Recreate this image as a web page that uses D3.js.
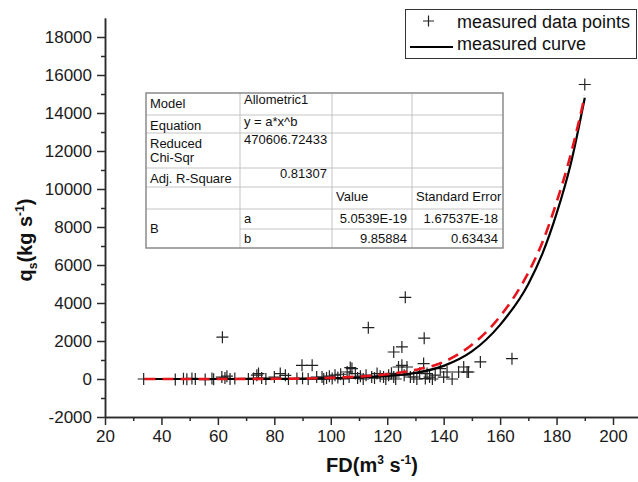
<!DOCTYPE html>
<html>
<head>
<meta charset="utf-8">
<script src="https://cdn.jsdelivr.net/npm/d3@7"></script>
<style>
  body { margin: 0; background: #fff; }
  svg { display: block; font-family: Arial, 'Liberation Sans', sans-serif; }
</style>
</head>
<body>
<script>
'use strict';

// scatter points: FD (m3/s) and qs (kg/s)
const fdValues = [
  33.7, 44.9, 47.8, 49.0, 50.8, 52.0, 55.5, 57.9, 58.5, 61.4, 62.5, 63.2, 64.3, 66.0,
  70.8, 72.6, 73.8, 74.4, 75.5, 77.0, 80.0, 82.1, 83.9, 85.0, 88.0, 90.0, 92.0, 95.0,
  96.9, 97.5, 98.5, 99.5, 100.5, 101.5, 102.5, 103.5, 104.5, 105.8, 106.5, 107.5, 108.7,
  109.5, 110.5, 111.5, 112.5, 114.5, 115.5, 116.4, 117.5, 118.7, 119.5, 120.5, 121.5,
  122.3, 123.0, 124.0, 125.2, 126.0, 127.0, 128.2, 129.4, 130.5, 131.5, 132.9, 133.5,
  134.1, 135.0, 136.0, 137.0, 138.8, 140.0, 141.2, 143.0, 145.3, 147.1, 148.3, 148.8,
  61.6, 89.8, 93.4, 106.9, 113.3, 122.3, 125.2, 126.4, 133.1, 153.0, 164.2, 190.0
];
const qsValues = [
  0, -20, 10, -10, 30, 0, -30, 20, -10, 100, 50, 150, 0, 20,
  0, 30, 200, 284, 50, 0, 100, 284, 195, 0, 20, 40, 0, 100,
  105, 0, 50, 150, 30, 200, 80, 250, 0, 368, 100, 547, 284,
  50, 150, 0, 200, 100, 50, 284, 150, 105, 0, 200, 300,
  105, 0, 631, 721, 200, 631, 105, 105, 0, 300, 810, 21,
  284, 100, 0, 200, 547, 100, 368, 0, 368, 631, 368, 368,
  2200, 720, 720, 600, 2700, 1420, 1690, 4300, 2150, 900, 1070, 15500
];

// curves
const curveFd = [34, 60, 80, 100, 110, 120, 130, 140, 150, 160, 170, 175, 180, 185, 190];
const measuredCurveQs = [0, 0, 5, 35, 80, 160, 320, 690, 1450, 2850, 5000, 6600, 8700, 11300, 14800];
const fitCurveQs = [0, 2, 10, 60, 130, 250, 480, 900, 1800, 3300, 5600, 7200, 9300, 11800, 14900];

// axis ticks
const xMajorTicks = [20, 40, 60, 80, 100, 120, 140, 160, 180, 200];
const xMinorTicks = [30, 50, 70, 90, 110, 130, 150, 170, 190];
const yMajorTicks = [-2000, 0, 2000, 4000, 6000, 8000, 10000, 12000, 14000, 16000, 18000];
const yMinorTicks = [-1000, 1000, 3000, 5000, 7000, 9000, 11000, 13000, 15000, 17000];

// legend labels
const legendLabels = ['measured data points', 'measured curve'];

// fit table text, one row per line
const tableRows = [
  ['Model', 'Allometric1', '', ''],
  ['Equation', 'y = a*x^b', '', ''],
  ['Reduced|Chi-Sqr', '470606.72433', '', ''],
  ['Adj. R-Square', '0.81307', '', ''],
  ['', '', 'Value', 'Standard Error'],
  ['B', 'a', '5.0539E-19', '1.67537E-18'],
  ['', 'b', '9.85884', '0.63434']
];

(function() {
  let svg = '';

  window.onload = function() {
    svg = d3
      .select('body')
      .append('svg')
      .attr('width', 638)
      .attr('height', 482);

    const map = drawAxes();
    plotData(map);
    makeTable();
    makeLegend();
    makeLabels();
  };

  // axes with major and minor ticks
  function drawAxes() {
    const xScale = d3.scaleLinear().domain([20, 209]).range([105, 638.4]);
    const yScale = d3.scaleLinear().domain([-2000, 19000]).range([417, 18]);
    const plain = d => String(d); // no thousands comma, plain hyphen

    const xMinor = svg
      .append('g')
      .attr('transform', 'translate(0, 417)')
      .call(d3.axisBottom(xScale).tickValues(xMinorTicks).tickSize(4).tickSizeOuter(0).tickFormat(''));
    const xMajor = svg
      .append('g')
      .attr('transform', 'translate(0, 417)')
      .call(d3.axisBottom(xScale).tickValues(xMajorTicks).tickSize(8).tickSizeOuter(0).tickPadding(5).tickFormat(plain));

    const yMinor = svg
      .append('g')
      .attr('transform', 'translate(105, 0)')
      .call(d3.axisLeft(yScale).tickValues(yMinorTicks).tickSize(4).tickSizeOuter(0).tickFormat(''));
    const yMajor = svg
      .append('g')
      .attr('transform', 'translate(105, 0)')
      .call(d3.axisLeft(yScale).tickValues(yMajorTicks).tickSize(8).tickSizeOuter(0).tickPadding(5).tickFormat(plain));

    [xMinor, xMajor, yMinor, yMajor].forEach(g => {
      g.selectAll('path, line').attr('stroke', '#2b2b2b').attr('stroke-width', 1.5);
      g.selectAll('text')
        .attr('fill', '#1a1a1a')
        .style('font-size', '17px')
        .style('font-family', 'Arial, Liberation Sans, sans-serif');
    });

    return { xScale: xScale, yScale: yScale };
  }

  // pluses and the two curves
  function plotData(map) {
    const xScale = map.xScale;
    const yScale = map.yScale;
    const points = fdValues.map((fd, i) => ({ fd: fd, qs: qsValues[i] }));

    svg
      .append('g')
      .selectAll('path')
      .data(points)
      .enter()
      .append('path')
      .attr('transform', d => 'translate(' + xScale(d.fd) + ',' + yScale(d.qs) + ')')
      .attr('d', 'M-6,0H6M0,-6V6')
      .attr('stroke', '#222')
      .attr('stroke-width', 1.2)
      .attr('fill', 'none');

    const curveLine = d3
      .line()
      .x((d, i) => xScale(curveFd[i]))
      .y(d => yScale(d))
      .curve(d3.curveMonotoneX);

    svg
      .append('path')
      .datum(measuredCurveQs)
      .attr('d', curveLine)
      .attr('fill', 'none')
      .attr('stroke', '#000')
      .attr('stroke-width', 2.2);

    svg
      .append('path')
      .datum(fitCurveQs)
      .attr('d', curveLine)
      .attr('fill', 'none')
      .attr('stroke', '#e8141b')
      .attr('stroke-width', 2.6)
      .attr('stroke-dasharray', '11,7');
  }

  // Origin style fit report table
  function makeTable() {
    const colEdges = [146, 240, 332, 412, 503];
    const rowEdges = [93, 115, 133, 168, 187, 209, 229, 248];
    const table = svg.append('g').style('font-size', '13px').attr('fill', '#111');

    table
      .append('rect')
      .attr('x', colEdges[0])
      .attr('y', rowEdges[0])
      .attr('width', colEdges[4] - colEdges[0])
      .attr('height', rowEdges[7] - rowEdges[0])
      .attr('fill', '#fff');

    // inner horizontal lines, first column skips the line between a and b
    rowEdges.slice(1, 7).forEach((y, i) => {
      table
        .append('line')
        .attr('x1', i === 5 ? colEdges[1] : colEdges[0])
        .attr('x2', colEdges[4])
        .attr('y1', y)
        .attr('y2', y)
        .attr('stroke', '#c4c4c4');
    });
    colEdges.slice(1, 4).forEach(x => {
      table
        .append('line')
        .attr('x1', x)
        .attr('x2', x)
        .attr('y1', rowEdges[0])
        .attr('y2', rowEdges[7])
        .attr('stroke', '#c4c4c4');
    });

    table
      .append('rect')
      .attr('x', colEdges[0])
      .attr('y', rowEdges[0])
      .attr('width', colEdges[4] - colEdges[0])
      .attr('height', rowEdges[7] - rowEdges[0])
      .attr('fill', 'none')
      .attr('stroke', '#8a8a8a')
      .attr('stroke-width', 1.5);

    // right aligned numbers in these cells
    const rightAligned = ['0.81307', '5.0539E-19', '1.67537E-18', '9.85884', '0.63434'];

    tableRows.forEach((row, r) => {
      row.forEach((cell, c) => {
        if (cell === '') return;
        const top = rowEdges[r];
        let y = top + 14;
        if (c === 0 && r < 4) y = top + 15;
        if (c === 0 && r === 5) y = 233;
        if (c > 0 && r < 4) y = top + 11;
        if (r === 3 && c > 0) y = top + 10;

        const right = rightAligned.indexOf(cell) >= 0;
        const lines = cell.split('|');
        lines.forEach((txt, k) => {
          table
            .append('text')
            .attr('x', right ? colEdges[c + 1] - 5 : colEdges[c] + 4)
            .attr('y', y + k * 14)
            .attr('text-anchor', right ? 'end' : 'start')
            .text(txt);
        });
      });
    });
  }

  // legend box in the top right corner
  function makeLegend() {
    const legend = svg.append('g');

    legend
      .append('rect')
      .attr('x', 405.5)
      .attr('y', 9.5)
      .attr('width', 231)
      .attr('height', 49)
      .attr('fill', '#fff')
      .attr('stroke', '#333')
      .attr('stroke-width', 1);

    legend
      .append('path')
      .attr('d', 'M423,21H434M428.5,15.5V26.5')
      .attr('stroke', '#222')
      .attr('stroke-width', 1.2);

    legend
      .append('line')
      .attr('x1', 410)
      .attr('x2', 453)
      .attr('y1', 47)
      .attr('y2', 47)
      .attr('stroke', '#000')
      .attr('stroke-width', 2.2);

    legend
      .selectAll('text')
      .data(legendLabels)
      .enter()
      .append('text')
      .attr('x', 457)
      .attr('y', (d, i) => 28 + i * 22)
      .style('font-size', '18px')
      .attr('fill', '#111')
      .text(d => d);
  }

  // axis titles with sub and superscripts
  function makeLabels() {
    const xTitle = svg
      .append('text')
      .attr('x', 372)
      .attr('y', 472)
      .attr('text-anchor', 'middle')
      .style('font-size', '20px')
      .style('font-weight', 'bold')
      .attr('fill', '#111');
    xTitle.append('tspan').text('FD(m');
    xTitle.append('tspan').attr('dy', -8).style('font-size', '12px').text('3');
    xTitle.append('tspan').attr('dy', 8).text(' s');
    xTitle.append('tspan').attr('dy', -8).style('font-size', '12px').text('-1');
    xTitle.append('tspan').attr('dy', 8).text(')');

    const yTitle = svg
      .append('text')
      .attr('transform', 'translate(32, 240)rotate(-90)')
      .attr('text-anchor', 'middle')
      .style('font-size', '20px')
      .style('font-weight', 'bold')
      .attr('fill', '#111');
    yTitle.append('tspan').text('q');
    yTitle.append('tspan').attr('dy', 5).style('font-size', '12px').text('s');
    yTitle.append('tspan').attr('dy', -5).text('(kg s');
    yTitle.append('tspan').attr('dy', -8).style('font-size', '12px').text('-1');
    yTitle.append('tspan').attr('dy', 8).text(')');
  }
})();
</script>
</body>
</html>
